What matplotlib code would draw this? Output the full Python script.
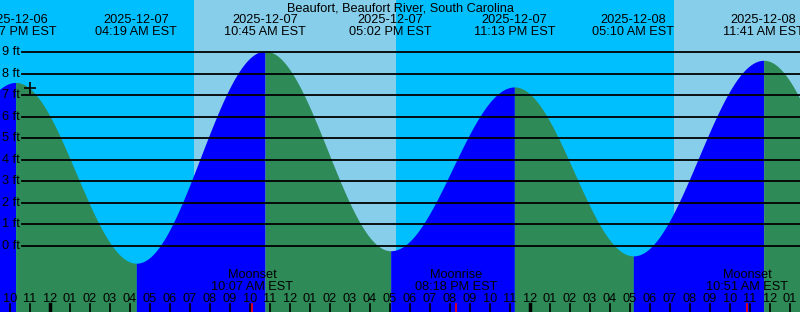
import numpy as np
import matplotlib.pyplot as plt

plt.rcParams['font.family'] = ['Liberation Sans', 'DejaVu Sans']

# hours since 2025-12-07 00:00 EST
ext_hours = [-8.0, -1.717, 4.317, 10.75, 17.033, 23.217, 29.167, 35.683, 41.9]
ext_feet = [-0.5, 7.6, -0.8, 9.06, -0.22, 7.39, -0.46, 8.63, -0.5]
ext_dates = ["2025-12-06", "2025-12-07", "2025-12-07", "2025-12-07",
             "2025-12-07", "2025-12-08", "2025-12-08"]
ext_times = ["10:17 PM EST", "04:19 AM EST", "10:45 AM EST", "05:02 PM EST",
             "11:13 PM EST", "05:10 AM EST", "11:41 AM EST"]

day_start = [7.2, 31.2]
day_end = [17.3, 41.3]

moon_hours = [10.117, 20.3, 34.85]
moon_names = ["Moonset", "Moonrise", "Moonset"]
moon_times = ["10:07 AM EST", "08:18 PM EST", "10:51 AM EST"]

now_hour = -1.0
now_feet = 7.36

ft_levels = list(range(0, 10))
hour_labels = ["12", "01", "02", "03", "04", "05", "06", "07", "08", "09", "10", "11"]

x0, x1 = -2.5, 37.5
ylo, yhi = -3.067, 11.431
fs = 9.2

fig = plt.figure(figsize=(8, 3.12), dpi=100)
ax = fig.add_axes([0, 0, 1, 1])
ax.set_xlim(x0, x1)
ax.set_ylim(ylo, yhi)
ax.axis("off")
ax.add_patch(plt.Rectangle((x0, ylo), x1 - x0, yhi - ylo, color="#00BFFF", zorder=0))
for s, e in zip(day_start, day_end):
    ax.axvspan(s, e, color="#87CEEB", zorder=0.5, lw=0)

# tide curve between extrema (half-cosine)
for i in range(len(ext_hours) - 1):
    ta, tb = ext_hours[i], ext_hours[i + 1]
    ha, hb = ext_feet[i], ext_feet[i + 1]
    t = np.linspace(ta, tb, 200)
    h = (ha + hb) / 2 + (ha - hb) / 2 * np.cos(np.pi * (t - ta) / (tb - ta))
    col = "#0000FF" if hb > ha else "#2E8B57"
    ax.fill_between(t, ylo, h, color=col, lw=0, zorder=1)

for f in ft_levels:
    ax.plot([-1.42, x1], [f, f], color="black", lw=1.3, zorder=2)
    ax.text(-2.42, f, f"{f} ft", ha="left", va="center", fontsize=fs, zorder=3)

ax.plot(now_hour, now_feet, marker="+", color="black", ms=9, mew=1.2, zorder=4)

ax.text(17.5, 11.03, "Beaufort, Beaufort River, South Carolina",
        ha="center", va="center", fontsize=fs)
for h, d, tm in zip(ext_hours[1:-1], ext_dates, ext_times):
    ax.text(h, 10.5, d, ha="center", va="center", fontsize=fs)
    ax.text(h, 9.93, tm, ha="center", va="center", fontsize=fs)

for h, n, tm in zip(moon_hours, moon_names, moon_times):
    ax.text(h, -1.34, n, ha="center", va="center", fontsize=fs, zorder=3)
    ax.text(h, -1.9, tm, ha="center", va="center", fontsize=fs, zorder=3)
    ax.plot([h, h], [-2.7, ylo], color="red", lw=1.2, zorder=3)

for k in range(-2, 38):
    lab = hour_labels[k % 12]
    ax.text(k, -2.48, lab, ha="center", va="center", fontsize=fs, zorder=3)
    lw = 2.5 if k % 24 == 0 else 1.2
    ax.plot([k, k], [-2.7, ylo], color="black", lw=lw, zorder=3)

fig.savefig("out.png", dpi=100)
